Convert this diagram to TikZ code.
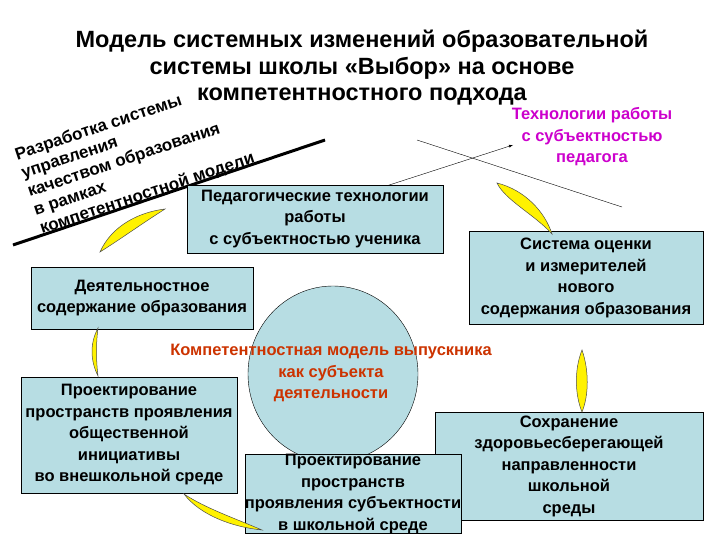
\documentclass[tikz,border=0pt]{standalone}
\usepackage{fontspec}
\usetikzlibrary{shapes.geometric}
\setmainfont{Liberation Sans}
\begin{document}
\begin{tikzpicture}[x=1pt,y=-1pt,
  box/.style={draw=black,fill=boxc,align=center,inner sep=0pt,font=\bfseries\fontsize{16.5}{21.5}\selectfont},
  txt/.style={align=center,font=\bfseries\fontsize{16.5}{21.5}\selectfont},
  moon/.style={fill=yellow,draw=black!70,line width=0.5pt}]
\definecolor{boxc}{HTML}{B7DDE3}
\definecolor{mag}{HTML}{CC00CC}
\definecolor{redt}{HTML}{CC3300}
\useasboundingbox (0,0) rectangle (720,540);
% title
\node[txt,font=\bfseries\fontsize{23.5}{26.5}\selectfont] (title) at (362,68) {Модель системных изменений образовательной\\системы школы «Выбор» на основе\\компетентностного подхода};
% rotated text
\node[align=left,rotate=18.5,font=\bfseries\fontsize{17}{19.5}\selectfont,anchor=center] (rot) at (135,157) {Разработка системы\\управления\\качеством образования\\в рамках\\компетентностной модели};
\coordinate (la) at (13,245);
\coordinate (lb) at (325,140);
\draw[line width=3pt] (la) -- (lb);
% thin lines
\coordinate (ta) at (380,188);
\coordinate (tb) at (513,145);
\draw[-latex,thin] (ta) -- (tb);
\coordinate (ca) at (417,140);
\coordinate (cb) at (622,207);
\draw[thin] (ca) -- (cb);
\node[txt,text=mag] (tech) at (592,137) {Технологии работы\\с субъектностью\\педагога};
% circle
\node[draw=black,fill=boxc,ellipse,minimum width=170pt,minimum height=176pt,inner sep=0pt] (circ) at (333,374) {};
% boxes
\node[box,minimum width=256pt,minimum height=68pt] (ped) at (315,219) {Педагогические технологии\\работы\\с субъектностью ученика};
\node[box,minimum width=234pt,minimum height=93pt] (sys) at (586,278) {Система оценки\\и измерителей\\нового\\содержания образования};
\node[box,minimum width=222pt,minimum height=62pt] (deat) at (142,298) {Деятельностное\\содержание образования};
\node[txt,text=redt] (model) at (331,373) {Компетентностная модель выпускника\\как субъекта\\деятельности};
\node[box,minimum width=216pt,minimum height=116pt] (proj1) at (129,435) {Проектирование\\пространств проявления\\общественной\\инициативы\\во внешкольной среде};
\node[box,minimum width=268pt,minimum height=108pt] (sohr) at (569,466) {Сохранение\\здоровьесберегающей\\направленности\\школьной\\среды};
\node[box,minimum width=197pt,minimum height=74pt] (proj2) at (353,494) {Проектирование\\пространств\\проявления субъектности\\в школьной среде};
% crescents
\draw[moon] (100,252) .. controls (112,225) and (140,212) .. (165,209) .. controls (140,225) and (122,238) .. (100,252) -- cycle;
\draw[moon] (497,183) .. controls (525,190) and (545,212) .. (552,234) .. controls (535,215) and (505,200) .. (497,183) -- cycle;
\draw[moon] (98,328) .. controls (90,343) and (90,360) .. (98,376) .. controls (96,360) and (96,343) .. (98,328) -- cycle;
\draw[moon] (582,350) .. controls (574,370) and (575,395) .. (582,412) .. controls (589,395) and (589,370) .. (582,350) -- cycle;
\draw[moon] (184,494) .. controls (200,515) and (232,527) .. (262,530) .. controls (234,518) and (205,508) .. (184,494) -- cycle;
\end{tikzpicture}
\end{document}
